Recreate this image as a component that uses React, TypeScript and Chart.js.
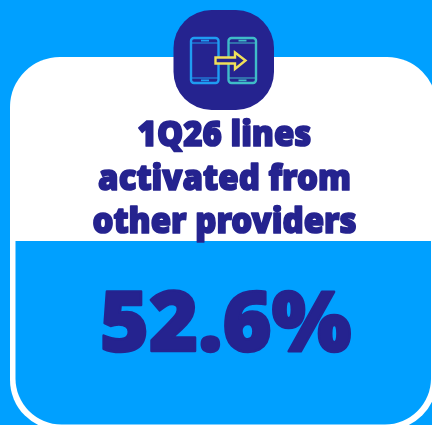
import React, { useEffect, useRef } from "react";
import { Chart, registerables } from "chart.js";

Chart.register(...registerables);

const categories = ["1Q26 lines activated from other providers"];
const shareValues = [52.6];
const headingLines = ["1Q26 lines", "activated from", "other providers"];

const BLUE = "#00a0ff";
const NAVY = "#25238f";

function rr(ctx: CanvasRenderingContext2D, x: number, y: number, w: number, h: number, r: number[]) {
  ctx.beginPath();
  ctx.roundRect(x, y, w, h, r);
}

function phone(ctx: CanvasRenderingContext2D, x: number, color: string) {
  ctx.strokeStyle = color;
  ctx.lineWidth = 2.4;
  rr(ctx, x, 38, 27.5, 45, [3, 3, 3, 3]);
  ctx.stroke();
  ctx.lineWidth = 1;
  ctx.beginPath();
  ctx.moveTo(x, 43); ctx.lineTo(x + 27.5, 43);
  ctx.moveTo(x, 78); ctx.lineTo(x + 27.5, 78);
  ctx.stroke();
  ctx.lineWidth = 1.6;
  ctx.beginPath();
  ctx.moveTo(x + 10, 40.6); ctx.lineTo(x + 18, 40.6);
  ctx.moveTo(x + 10, 80.4); ctx.lineTo(x + 18, 80.4);
  ctx.stroke();
}

function heavyText(ctx: CanvasRenderingContext2D, text: string, cx: number, y: number, sy: number, lw: number) {
  ctx.save();
  ctx.translate(cx, y);
  ctx.scale(1, sy);
  ctx.lineWidth = lw;
  ctx.fillText(text, 0, 0);
  ctx.strokeText(text, 0, 0);
  ctx.restore();
}

const infographic = {
  id: "infographic",
  beforeDraw(chart: Chart) {
    const ctx = chart.ctx;
    ctx.save();
    ctx.fillStyle = BLUE;
    ctx.fillRect(0, 0, 432, 425);
    ctx.fillStyle = "#ffffff";
    rr(ctx, 10, 57, 427, 373, [50, 50, 50, 50]);
    ctx.fill();
    ctx.fillStyle = BLUE;
    rr(ctx, 15.5, 241, 415.5, 183.5, [0, 0, 46, 46]);
    ctx.fill();

    // icon tile
    ctx.fillStyle = NAVY;
    rr(ctx, 173.5, 10, 100.5, 100, [38, 38, 38, 38]);
    ctx.fill();
    phone(ctx, 191, "#1f9cf2");
    phone(ctx, 228.5, "#3fbcc8");
    // arrow
    ctx.beginPath();
    ctx.moveTo(215.5, 57.5);
    ctx.lineTo(235, 57.5);
    ctx.lineTo(235, 52.5);
    ctx.lineTo(245.5, 60.5);
    ctx.lineTo(235, 69);
    ctx.lineTo(235, 63.5);
    ctx.lineTo(215.5, 63.5);
    ctx.closePath();
    ctx.fillStyle = NAVY;
    ctx.fill();
    ctx.strokeStyle = "#f0e05a";
    ctx.lineWidth = 2.4;
    ctx.stroke();

    // texts
    ctx.fillStyle = NAVY;
    ctx.strokeStyle = NAVY;
    ctx.textAlign = "center";
    ctx.textBaseline = "alphabetic";
    ctx.lineJoin = "round";
    ctx.font = "900 33px 'Noto Sans'";
    const baselines = [146, 189.5, 233];
    headingLines.forEach((line, i) => heavyText(ctx, line, 224.5, baselines[i], 1.06, 1.6));
    ctx.font = "900 84px 'Noto Sans'";
    const val = `${chart.data.datasets[0].data[0]}%`;
    heavyText(ctx, val, 225.5, 351, 1.0, 2.5);
    ctx.restore();
  },
};

export default function App() {
  const ref = useRef<HTMLCanvasElement>(null);
  useEffect(() => {
    document.body.style.margin = "0";
    const chart = new Chart(ref.current!, {
      type: "bar",
      data: {
        labels: categories,
        datasets: [{ data: shareValues, backgroundColor: "rgba(0,0,0,0)" }],
      },
      options: {
        animation: false,
        responsive: false,
        plugins: { legend: { display: false }, tooltip: { enabled: false } },
        scales: { x: { display: false }, y: { display: false } },
      },
      plugins: [infographic],
    });
    return () => chart.destroy();
  }, []);
  return <canvas ref={ref} width={432} height={425} style={{ display: "block" }} />;
}
